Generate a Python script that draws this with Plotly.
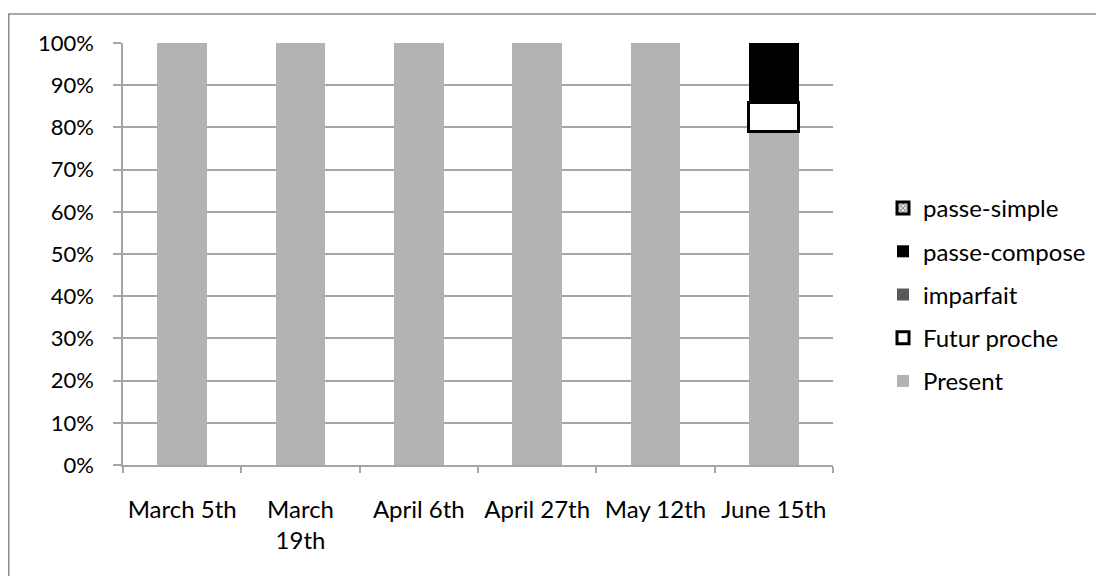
import plotly.graph_objects as go

dates = ["March 5th", "March<br>19th", "April 6th", "April 27th", "May 12th", "June 15th"]
present = [1.0, 1.0, 1.0, 1.0, 1.0, 0.79]
futur_proche = [0, 0, 0, 0, 0, 0.07]
imparfait = [0, 0, 0, 0, 0, 0]
passe_compose = [0, 0, 0, 0, 0, 0.14]
passe_simple = [0, 0, 0, 0, 0, 0]
y_ticks = [0, 0.1, 0.2, 0.3, 0.4, 0.5, 0.6, 0.7, 0.8, 0.9, 1.0]


def nz(vals):
    return [v if v else None for v in vals]


FONT = "Lato"
FS = 24
W, H = 1104, 576
L, T = 115, 35
PW, PH = 710, 422
R = W - L - PW
B = H - T - PH

fig = go.Figure()
fig.add_bar(x=dates, y=nz(present), name="Present", legendgroup="a", legendrank=5,
            marker=dict(color="#b3b3b3", line=dict(width=0)))
fig.add_bar(x=dates, y=nz(futur_proche), name="Futur proche", legendgroup="b", legendrank=4,
            marker=dict(color="white", line=dict(color="black", width=3)))
fig.add_bar(x=dates, y=nz(imparfait), name="imparfait", legendgroup="c", legendrank=3,
            marker=dict(color="#595959", line=dict(width=0)))
fig.add_bar(x=dates, y=nz(passe_compose), name="passe-compose", legendgroup="d", legendrank=2,
            marker=dict(color="black", line=dict(width=0)))
fig.add_bar(x=dates, y=nz(passe_simple), name="passe-simple", legendgroup="e", legendrank=1,
            marker=dict(color="white", line=dict(color="black", width=3),
                        pattern=dict(shape="x", fgcolor="black", size=4, solidity=0.5)))

fig.update_layout(
    width=W, height=H,
    margin=dict(l=L, r=R, t=T, b=B, autoexpand=False),
    barmode="stack", bargap=0.58,
    plot_bgcolor="white", paper_bgcolor="white",
    font=dict(family=FONT, size=FS, color="black"),
    legend=dict(x=(875 - L) / PW, xanchor="left", y=1 - (178 - T) / PH, yanchor="top",
                traceorder="grouped", tracegroupgap=9,
                font=dict(family=FONT, size=FS, color="black"),
                itemwidth=30, bgcolor="rgba(0,0,0,0)"),
    xaxis=dict(type="category", showline=True, linecolor="#a6a6a6", linewidth=1.5,
               ticks="outside", tickson="boundaries", ticklen=6, tickcolor="#a6a6a6",
               tickwidth=1.5, showgrid=False, ticklabelstandoff=22, tickangle=0,
               tickfont=dict(family=FONT, size=FS)),
    yaxis=dict(range=[0, 1], tickvals=y_ticks, tickformat=".0%", showline=True,
               linecolor="#a6a6a6", linewidth=1.5, ticks="outside", ticklen=8,
               tickcolor="#a6a6a6", tickwidth=1.5, showgrid=True, gridcolor="#a6a6a6",
               gridwidth=1.5, zeroline=False, ticklabelstandoff=15,
               tickfont=dict(family=FONT, size=22)),
)

fig.add_shape(type="rect", xref="paper", yref="paper",
              x0=(0.75 - L) / PW, x1=(W + 20 - L) / PW,
              y0=-(H + 20 - (T + PH)) / PH, y1=1 + (T - 6) / PH,
              line=dict(color="#8c8c8c", width=1.5), fillcolor="rgba(0,0,0,0)", layer="below")

fig.write_html("out.html")
